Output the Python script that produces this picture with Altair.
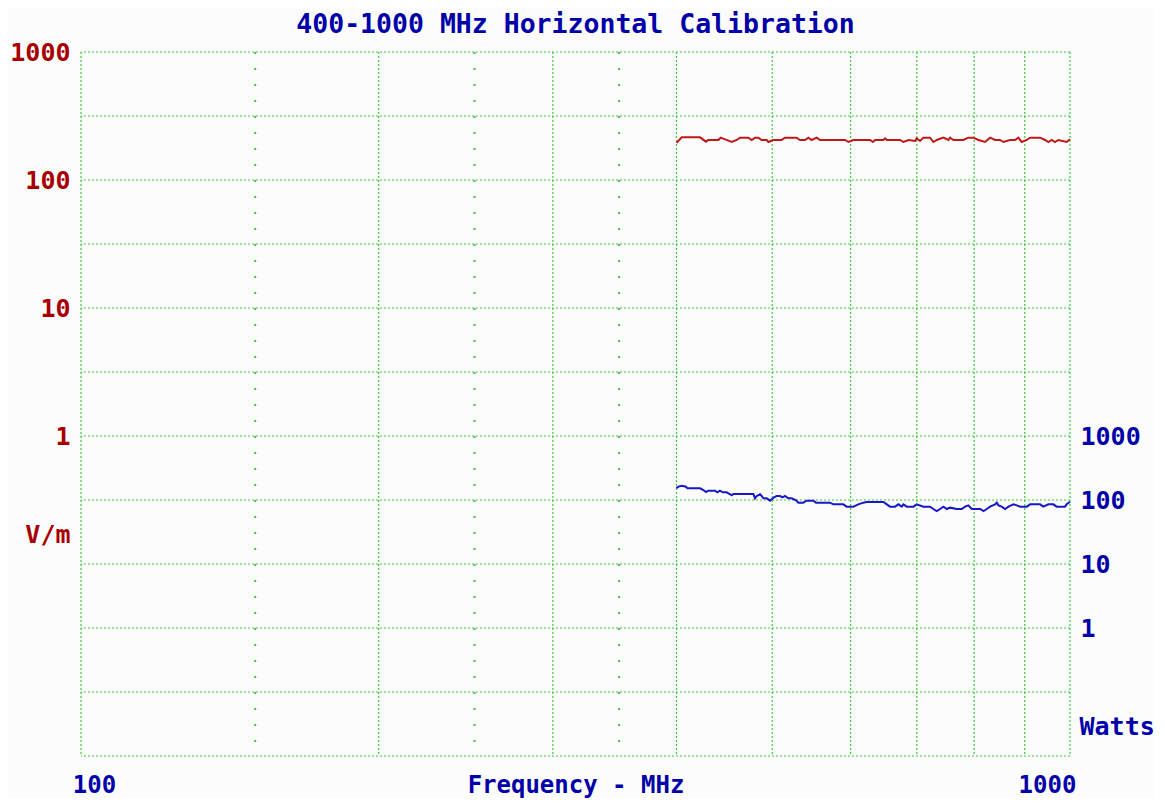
import altair as alt
import pandas as pd

# Red series: field strength (V/m) vs frequency (MHz)
red_freq = [400, 401, 405, 422.6, 428.5, 430.8, 441, 443.5, 448, 455, 460.3, 463.8, 472.9, 476.6,
            480.3, 484, 487.8, 493.5, 495.5, 501, 510.9, 515, 529, 533.3, 539.6, 543.8, 548, 554.5,
            558.8, 576.4, 592.3, 596.9, 603.9, 628, 632, 635.3, 647.7, 650.3, 652.8, 673.3, 678.5,
            686.5, 697.3, 699.8, 705.3, 710.8, 721.9, 727.5, 733.3, 744.7, 753.4, 756.4, 762.2,
            780.2, 789.3, 798.6, 807.9, 820.6, 830.2, 840, 849.8, 856.4, 869.8, 880, 886.9, 893.7,
            904.2, 911.3, 932.7, 943.6, 951, 958.4, 965.6, 973.2, 992.3, 1000]
red_vm = [195.7, 199.3, 215.4, 215.4, 199.3, 205.4, 205.4, 214.2, 207.9, 198.1, 205.4, 214.2, 214.2, 205.4,
          214.2, 214.2, 205.4, 205.4, 198.1, 205.4, 205.4, 214.2, 214.2, 205.4, 205.4, 214.2, 205.4, 214.2,
          205.4, 205.4, 205.4, 198.1, 205.4, 205.4, 198.1, 205.4, 205.4, 211.6, 205.4, 205.4, 198.1,
          205.4, 201.7, 211.6, 201.7, 214.2, 214.2, 198.1, 205.4, 214.2, 205.4, 214.2, 205.4,
          205.4, 214.2, 214.2, 205.4, 198.1, 214.2, 205.4, 205.4, 198.1, 205.4, 205.4, 214.2, 198.1,
          205.4, 214.2, 214.2, 205.4, 198.1, 205.4, 198.1, 205.4, 198.1, 207.9]

# Blue series: forward power (Watts) vs frequency (MHz)
blue_freq = [400, 401.8, 405, 409, 410.3, 422.6, 425.9, 428.5, 430.8, 437.6, 440, 442.7, 445.5, 449.6,
             455, 456.6, 478.5, 480.3, 482.2, 486, 487.8, 489.7, 493.5, 497.4, 499.3, 502, 505.1, 509.1,
             512.2, 515, 519, 523.1, 529, 531.2, 537.4, 541.6, 550.2, 553.6, 571.9, 576.4, 589.9, 594.5,
             603.9, 610.9, 618.1, 622.9, 647.7, 652.8, 657.7, 665.5, 670.6, 675.9, 678.5, 683.8, 694.5,
             699.8, 710.8, 721.9, 727.5, 733.3, 739, 744.7, 750.6, 756.4, 768.2, 777.2, 783.3, 789.3,
             795.5, 811.3, 817.6, 824, 830.2, 840, 843.3, 846.5, 853.1, 859.8, 866.5, 876.6, 883.5,
             890.3, 904.2, 911.3, 932.7, 939.7, 951, 962, 969.3, 988.3, 992.3, 1000]
blue_w = [152.1, 161.6, 167.4, 161.6, 152.1, 152.1, 143.3, 133.4, 139.9, 139.9, 131.8, 139.9, 131.8, 131.8,
          118.3, 124.1, 124.1, 106.2, 115.5, 122.6, 115.5, 106.2, 106.2, 97.6, 102.4, 110.1, 115.5, 115.5,
          110.1, 115.5, 106.2, 106.2, 97.6, 90.9, 90.9, 97.6, 97.6, 90.9, 90.9, 85.6, 85.6, 78.7,
          78.7, 85.6, 90.9, 93.1, 93.1, 85.6, 78.7, 78.7, 85.6, 78.7, 85.6, 78.7, 78.7,
          85.6, 78.7, 78.7, 72.3, 67.3, 72.3, 78.7, 72.3, 75.9, 72.3, 72.3, 78.7, 82.5,
          72.3, 72.3, 67.3, 72.3, 78.7, 85.6, 90.9, 82.5, 78.7, 72.3, 78.7, 85.6, 82.5,
          78.7, 78.7, 85.6, 85.6, 78.7, 85.6, 85.6, 78.7, 78.7, 85.6, 94.2]

x_grid_major = [100, 200, 300, 400, 500, 600, 700, 800, 900, 1000]
x_grid_minor = [150, 250, 350]
x_labels = [100, 1000]
vm_ticks = [1, 10, 100, 1000]
watt_ticks = [1, 10, 100, 1000]
watt_grid = [0.01, 0.1, 1, 10, 100, 1000, 1e4, 1e5, 1e6, 1e7, 1e8, 1e9]

RED = "#a80000"
BLUE = "#0000a8"
GREEN = "#3cc83c"
FONT = "DejaVu Sans Mono"

red_df = pd.DataFrame({"freq": red_freq, "vm": red_vm})
blue_df = pd.DataFrame({"freq": blue_freq, "w": blue_w})
minor_df = pd.DataFrame({"freq": x_grid_minor})
major_df = pd.DataFrame({"freq": x_grid_major})

xscale = alt.Scale(type="log", domain=[100, 1000], nice=False)

x_axis = alt.Axis(
    values=x_labels, grid=False, ticks=False, domain=False, format="d",
    labelColor=BLUE, labelFont=FONT, labelFontSize=24,
    labelFontWeight="bold", labelPadding=29, labelFlush=False, labelBaseline="middle",
    labelOffset={"condition": {"test": "datum.value == 100", "value": 13}, "value": -23},
    title="Frequency - MHz", titleColor=BLUE, titleFont=FONT, titleFontSize=24,
    titleFontWeight="bold", titleY=29, titleBaseline="middle", titlePadding=0,
)

def xenc():
    return alt.X("freq:Q", scale=xscale, axis=x_axis)

minor = alt.Chart(minor_df).mark_rule(color=GREEN, strokeDash=[2, 14], strokeWidth=2).encode(x=xenc())

major = alt.Chart(major_df).mark_rule(color=GREEN, strokeDash=[2, 2], strokeWidth=1.2).encode(x=xenc())

red_line = alt.Chart(red_df).mark_line(color="#c01818", strokeWidth=2, interpolate="linear").encode(
    x=xenc(),
    y=alt.Y("vm:Q", scale=alt.Scale(type="log", domain=[10 ** -2.5, 1000], nice=False),
            axis=alt.Axis(orient="left", values=vm_ticks, grid=False, ticks=False, domain=False,
                          format="d",
                          labelColor=RED, labelFont=FONT, labelFontSize=25, labelFontWeight="bold",
                          labelPadding=11, labelBaseline="middle", labelFlush=False,
                          title="V/m", titleColor=RED, titleFont=FONT, titleFontSize=25,
                          titleFontWeight="bold", titleAngle=0, titleAlign="right",
                          titleBaseline="middle", titleX=-11, titleY=482)),
)

blue_line = alt.Chart(blue_df).mark_line(color="#1818c8", strokeWidth=2, interpolate="linear").encode(
    x=xenc(),
    y=alt.Y("w:Q", scale=alt.Scale(type="log", domain=[0.01, 1e9], nice=False),
            axis=alt.Axis(orient="right", values=watt_ticks, grid=False, ticks=False, domain=False,
                          format="d",
                          labelColor=BLUE, labelFont=FONT, labelFontSize=25, labelFontWeight="bold",
                          labelPadding=10, labelBaseline="middle", labelFlush=False,
                          title="Watts", titleColor=BLUE, titleFont=FONT, titleFontSize=25,
                          titleFontWeight="bold", titleAngle=0, titleAlign="left",
                          titleBaseline="middle", titleX=9, titleY=674)),
)

hgrid = alt.Chart(pd.DataFrame({"w": watt_grid})).mark_rule(
    color=GREEN, strokeDash=[2, 2], strokeWidth=1.2
).encode(y=alt.Y("w:Q", scale=alt.Scale(type="log", domain=[0.01, 1e9], nice=False), axis=None))

chart = alt.layer(minor, major, hgrid, red_line, blue_line).resolve_scale(y="independent").properties(
    width=989, height=704,
    autosize=alt.AutoSizeParams(type="none"),
    padding={"left": 73, "top": 44, "right": 84, "bottom": 42},
    title=alt.TitleParams("400-1000 MHz Horizontal Calibration", color=BLUE, font=FONT,
                          fontSize=26.5, fontWeight="bold", anchor="middle", offset=2),
    background="#fcfcfc",
).configure_view(stroke=None)

chart.save("out.html", embed_options={"renderer": "svg", "actions": False})
